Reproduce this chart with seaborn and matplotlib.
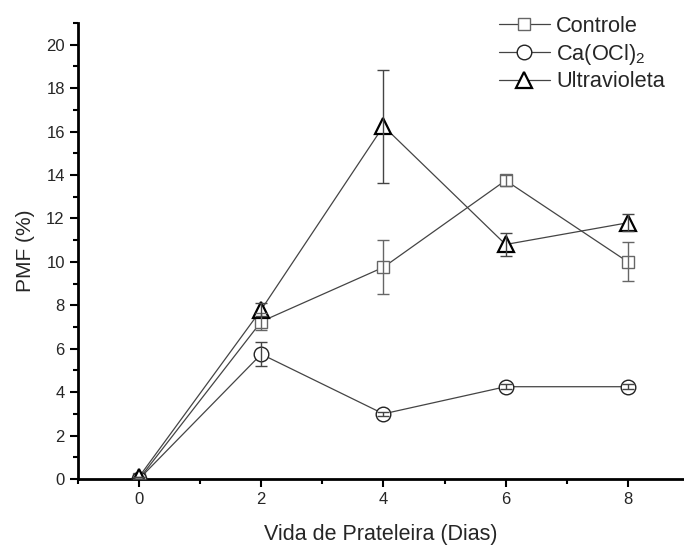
import numpy as np
import pandas as pd
import matplotlib
matplotlib.use("Agg")
import matplotlib.pyplot as plt
import seaborn as sns
from matplotlib.lines import Line2D

# ---- data ----
dias = [0, 2, 4, 6, 8]
controle = [0.0, 7.25, 9.75, 13.75, 10.0]
controle_err = [0.0, 0.4, 1.25, 0.25, 0.9]
cacl = [0.0, 5.75, 3.0, 4.25, 4.25]
cacl_err = [0.0, 0.55, 0.1, 0.12, 0.12]
uv = [0.1, 7.8, 16.25, 10.8, 11.8]
uv_err = [0.0, 0.3, 2.6, 0.55, 0.4]

series_names = ["Controle", "Ca(OCl)$_2$", "Ultravioleta"]
x_ticks = [0, 2, 4, 6, 8]
y_ticks = [0, 2, 4, 6, 8, 10, 12, 14, 16, 18, 20]

sns.set_style("ticks")
plt.rcParams['font.family'] = ['Liberation Sans', 'DejaVu Sans']
plt.rcParams['mathtext.fontset'] = 'custom'
plt.rcParams['mathtext.rm'] = 'Liberation Sans'
plt.rcParams['mathtext.it'] = 'Liberation Sans'
plt.rcParams['mathtext.default'] = 'regular'

fig = plt.figure(figsize=(6.84, 5.45), dpi=100)
ax = fig.add_axes([78/684, 66/545, 1 - 78/684, (479 - 23)/545])

styles = [
    (controle, controle_err, "s", 8.5, "#666666", "#666666", 1.0),
    (cacl, cacl_err, "o", 10.5, "#222222", "#444444", 1.0),
    (uv, uv_err, "^", 12, "#000000", "#444444", 1.6),
]

handles = []
for name, (vals, errs, mk, ms, ec, errc, mew) in zip(series_names, styles):
    d = pd.DataFrame({"x": dias, "y": vals})
    sns.lineplot(data=d, x="x", y="y", ax=ax, color="#444444", linewidth=0.9,
                 marker=mk, markersize=ms, markerfacecolor="white",
                 markeredgecolor=ec, markeredgewidth=mew, zorder=3)
    ax.errorbar(dias, vals, yerr=errs, fmt="none", ecolor=errc,
                elinewidth=1.0, capsize=4, capthick=1.0, zorder=4)
    handles.append(Line2D([], [], color="#444444", linewidth=0.9, marker=mk,
                          markersize=ms, markerfacecolor="white",
                          markeredgecolor=ec, markeredgewidth=mew))

ax.set_xlim(-1, 8.92)
ax.set_ylim(0, 21)
ax.set_xticks(x_ticks)
ax.set_yticks(y_ticks)
ax.set_xticks([-1, 1, 3, 5, 7], minor=True)
ax.set_yticks([1, 3, 5, 7, 9, 11, 13, 15, 17, 19, 21], minor=True)
ax.tick_params(which="major", direction="out", length=6, width=1.5, labelsize=12, color="black")
ax.tick_params(which="minor", direction="out", length=3.5, width=1.5, color="black")
for s in ["top", "right"]:
    ax.spines[s].set_visible(False)
for s in ["left", "bottom"]:
    ax.spines[s].set_linewidth(2)
    ax.spines[s].set_color("black")

ax.set_xlabel("Vida de Prateleira (Dias)", fontsize=15.5, labelpad=12)
ax.set_ylabel("PMF (%)", fontsize=15, labelpad=8)

leg = ax.legend(handles, series_names, loc="upper right", bbox_to_anchor=(0.983, 1.035),
                frameon=False, fontsize=15.7, handlelength=2.3, handletextpad=0.3,
                labelspacing=0.22, borderaxespad=0.0)

fig.savefig("out.png", dpi=100)
